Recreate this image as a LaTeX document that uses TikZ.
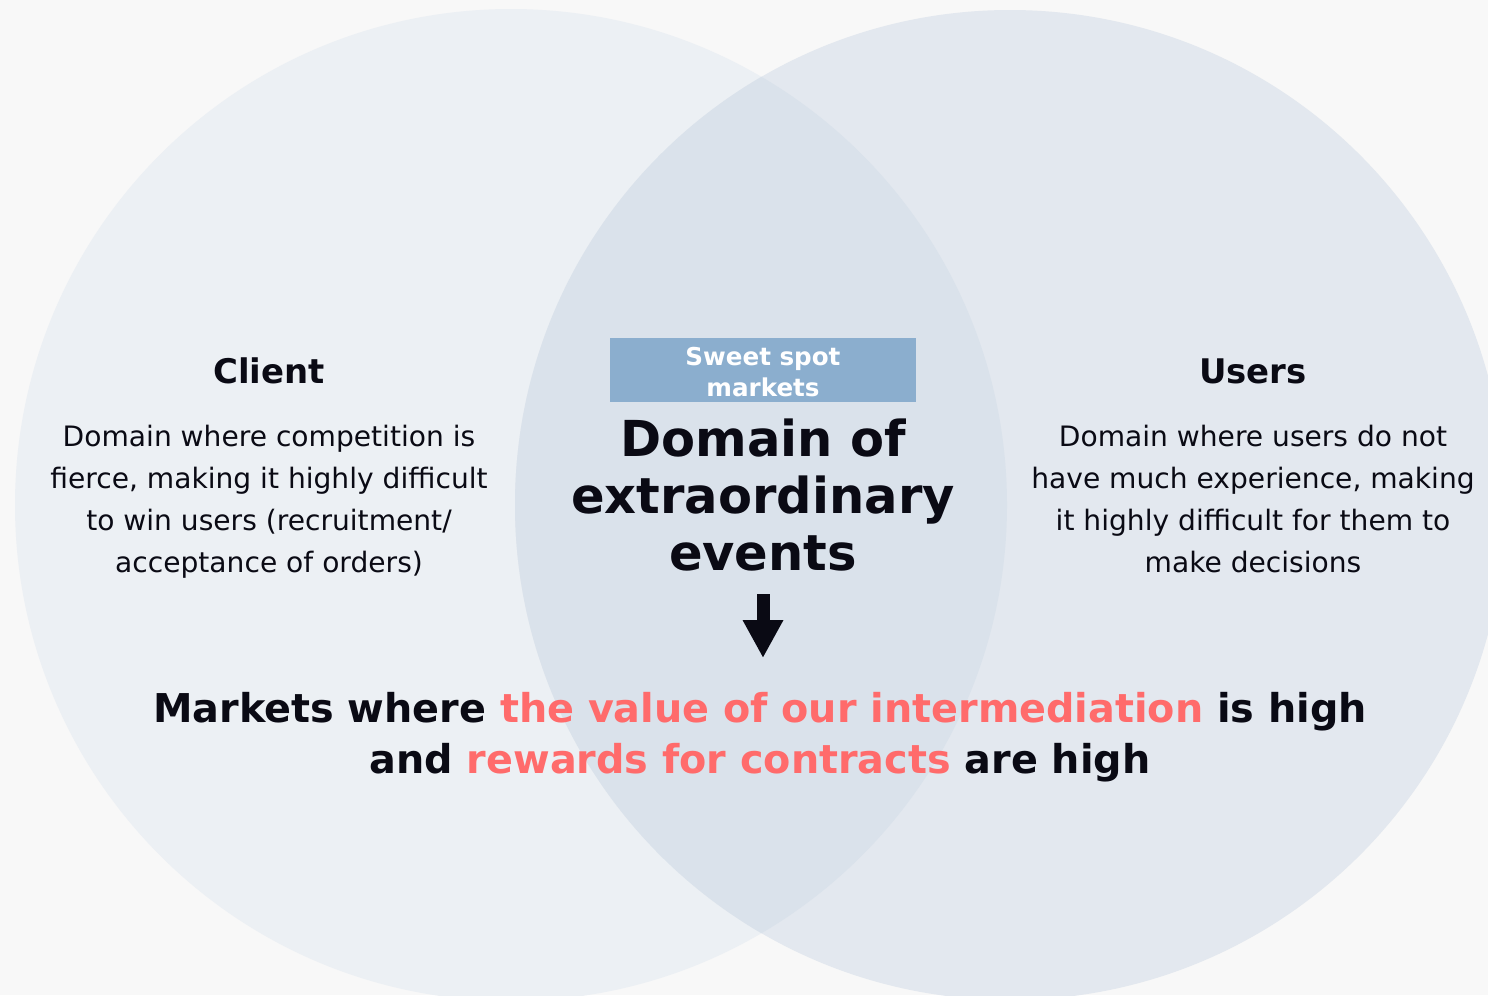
\documentclass[tikz,border=0pt]{standalone}
\usepackage{fontspec}
\setmainfont{DejaVu Sans}
\usetikzlibrary{arrows.meta}
\definecolor{pagegray}{HTML}{F8F8F8}
\definecolor{clientfill}{HTML}{ECF0F4}
\definecolor{usersfill}{HTML}{E3E8EF}
\definecolor{overlapfill}{HTML}{DAE2EB}
\definecolor{sweetblue}{HTML}{8BAECE}
\definecolor{salmon}{HTML}{FF6B6B}
\definecolor{inkblack}{HTML}{0A0A14}

\begin{document}
\begin{tikzpicture}[x=0.02cm,y=-0.02cm,text=inkblack,
  heading/.style={font=\bfseries\fontsize{19.3}{23}\selectfont},
  body/.style={align=center,font=\fontsize{16}{23.9}\selectfont},
  sweetbox/.style={fill=sweetblue,text=white,align=center,inner sep=0pt,
    minimum width=6.14cm,minimum height=1.28cm,font=\bfseries\fontsize{14}{17.6}\selectfont},
  bigtitle/.style={align=center,font=\bfseries\fontsize{28.2}{32.3}\selectfont},
  result/.style={align=center,font=\bfseries\fontsize{22.6}{28.9}\selectfont}]
\clip (0,0) rectangle (1488,995);
\fill[pagegray] (0,0) rectangle (1488,995);
% the two domains and their overlap
\fill[clientfill] (511,505) circle[radius=496];
\fill[usersfill] (1010,505) circle[radius=495];
\begin{scope}
\clip (511,505) circle[radius=496];
\fill[overlapfill] (1010,505) circle[radius=495];
\end{scope}
% left and right texts
\node[heading] (client) at (269,371) {Client};
\node[body] (clienttext) at (269,502) {Domain where competition is\\fierce, making it highly difficult\\to win users (recruitment/\\acceptance of orders)};
\node[heading] (users) at (1253,371) {Users};
\node[body] (userstext) at (1253,499) {Domain where users do not\\have much experience, making\\it highly difficult for them to\\make decisions};
% middle
\node[sweetbox] (sweet) at (763,370) {};
\node[align=center,text=white,font=\bfseries\fontsize{14}{17.6}\selectfont] (sweetlabel) at (763,372) {Sweet spot\\markets};
\node[bigtitle] (domain) at (763,495) {Domain of\\extraordinary\\events};
\coordinate (arrowtop) at (763,594);
\coordinate (arrowtip) at (763,658);
\draw[inkblack,line width=0.26cm,-{Triangle[width=0.76cm,length=0.76cm]}] (arrowtop) -- (arrowtip);
\node[result] (markets) at (760,737) {Markets where \textcolor{salmon}{the value of our intermediation} is high\\and \textcolor{salmon}{rewards for contracts} are high};
\end{tikzpicture}
\end{document}
